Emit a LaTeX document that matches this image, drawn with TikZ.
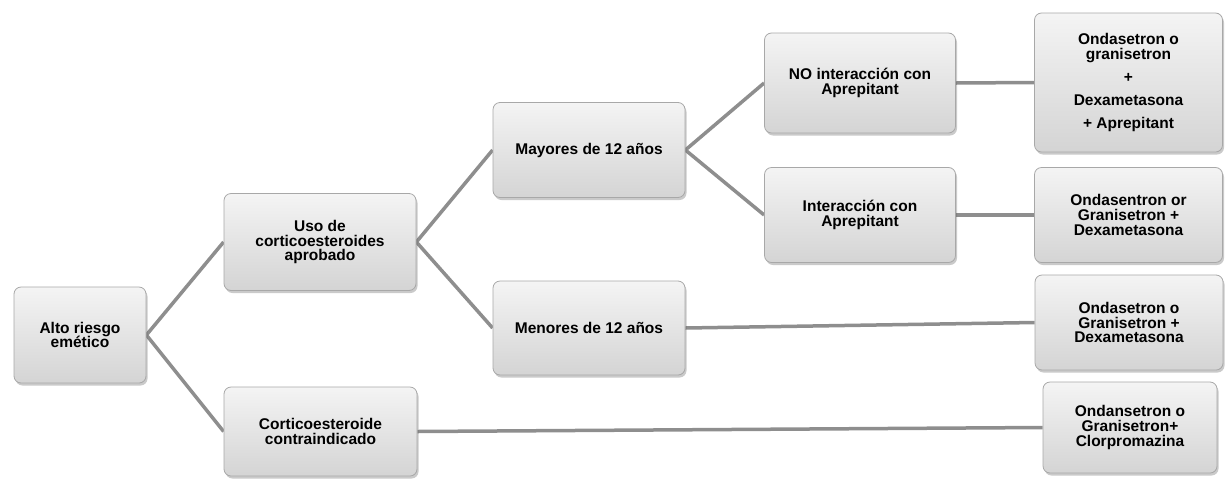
\documentclass[tikz,border=0pt]{standalone}
\usepackage{fontspec}
\setmainfont{Liberation Sans}
\usetikzlibrary{shadows,backgrounds}
\definecolor{linkgray}{HTML}{8E8E8E}
\definecolor{boxedge}{HTML}{A8A8A8}
\definecolor{boxtop}{HTML}{F4F4F4}
\definecolor{boxbot}{HTML}{D4D4D4}
\tikzset{
  box/.style={rectangle, rounded corners=7pt, draw=boxedge, line width=0.8pt,
    top color=boxtop, bottom color=boxbot,
    drop shadow={shadow xshift=1.5pt, shadow yshift=-2.5pt, opacity=0.35, fill=black!60},
    align=center, inner sep=2pt,
    font=\fontsize{15.5}{14.8}\selectfont\bfseries},
  link/.style={draw=linkgray, line width=3.5pt}
}
\begin{document}
\begin{tikzpicture}[x=1pt,y=-1pt]
\useasboundingbox (0,0) rectangle (1225,480);
\node[box, minimum width=132pt, minimum height=96pt] (a) at (80,335) {Alto riesgo\\emético};
\node[box, minimum width=192pt, minimum height=97pt] (b) at (320,242) {Uso de\\corticoesteroides\\aprobado};
\node[box, minimum width=193pt, minimum height=89pt] (c) at (320.5,431.5) {Corticoesteroide\\contraindicado};
\node[box, minimum width=192pt, minimum height=95pt] (d) at (589,150) {Mayores de 12 años};
\node[box, minimum width=192pt, minimum height=94pt] (e) at (589,328) {Menores de 12 años};
\node[box, minimum width=191pt, minimum height=100pt] (f) at (860,83) {NO interacción con\\Aprepitant};
\node[box, minimum width=191pt, minimum height=95pt] (g) at (860,215) {Interacción con\\Aprepitant};
\node[box, minimum width=188pt, minimum height=139pt] (h) at (1128.5,82.5) {Ondasetron o\\granisetron\\[8pt]+\\[8pt]Dexametasona\\[8pt]+ Aprepitant};
\node[box, minimum width=188pt, minimum height=95pt] (i) at (1128.5,215) {Ondasentron or\\Granisetron +\\Dexametasona};
\node[box, minimum width=188pt, minimum height=95pt] (j) at (1129,322.5) {Ondasetron o\\Granisetron +\\Dexametasona};
\node[box, minimum width=174pt, minimum height=91pt] (k) at (1130,427.5) {Ondansetron o\\Granisetron+\\Clorpromazina};
\begin{pgfonlayer}{background}
\draw[link] (a.east) -- (b.west);
\draw[link] (a.east) -- (c.west);
\draw[link] (b.east) -- (d.west);
\draw[link] (b.east) -- (e.west);
\draw[link] (d.east) -- (f.west);
\draw[link] (d.east) -- (g.west);
\draw[link] (f.east) -- (h.west);
\draw[link] (g.east) -- (i.west);
\draw[link] (e.east) -- (j.west);
\draw[link] (c.east) -- (k.west);
\end{pgfonlayer}
\end{tikzpicture}
\end{document}
